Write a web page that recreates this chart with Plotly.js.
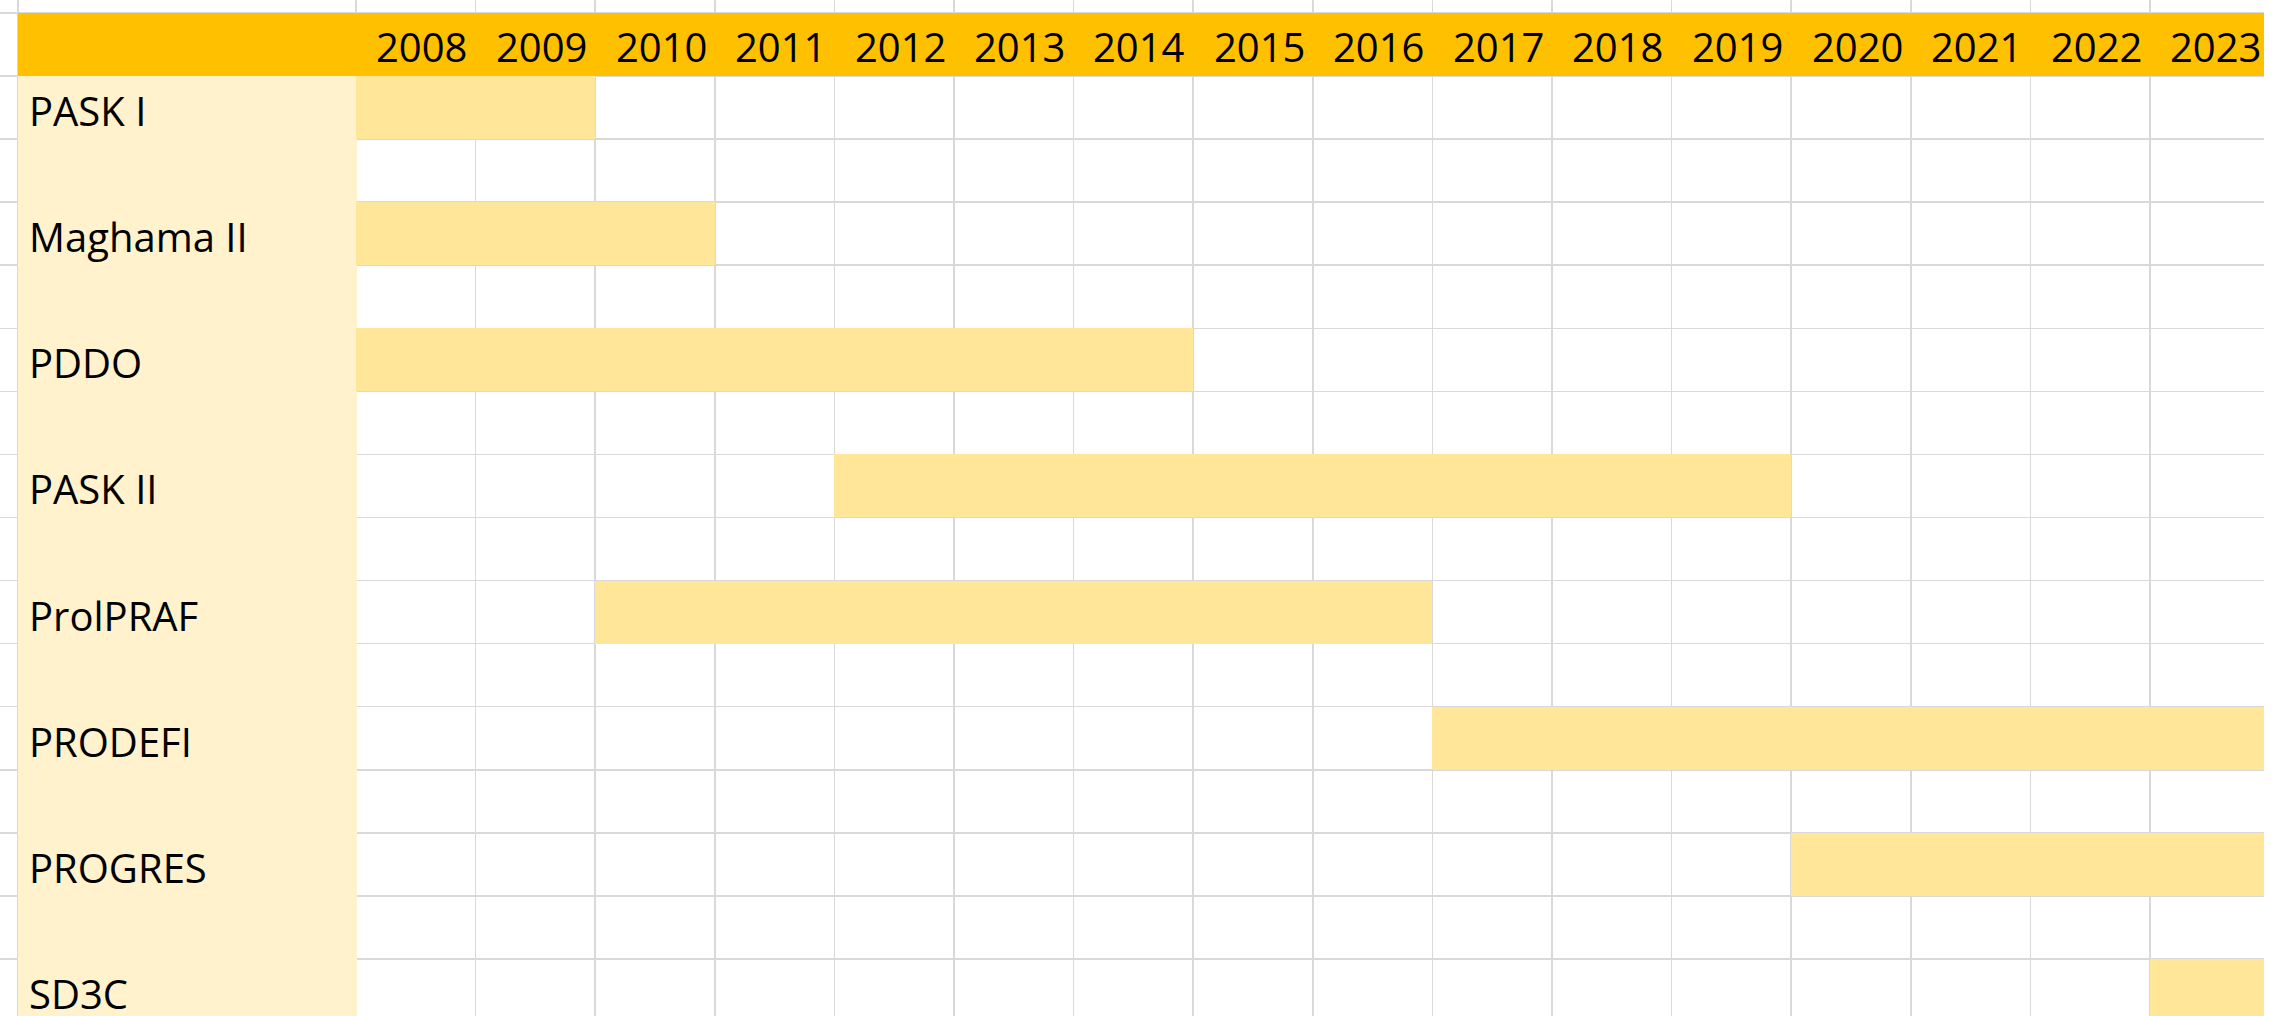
<!DOCTYPE html>
<html>
<head>
<meta charset="utf-8">
<script src="https://cdn.plot.ly/plotly-3.0.1.min.js"></script>
<style>html,body{margin:0;padding:0;background:#fff;}#chart{width:2280px;height:1016px;}</style>
</head>
<body>
<div id="chart"></div>
<script>
// ---- data ----
const years = ["2008","2009","2010","2011","2012","2013","2014","2015","2016","2017","2018","2019","2020","2021","2022","2023"];
const projects = ["PASK I","Maghama II","PDDO","PASK II","ProlPRAF","PRODEFI","PROGRES","SD3C"];
const startYears = [2008, 2008, 2008, 2012, 2010, 2017, 2020, 2023];
const endYears   = [2009, 2010, 2014, 2019, 2016, 2023, 2023, 2023];

// ---- geometry (pixels of the sheet) ----
const W = 2280, H = 1016;
const colW = 119.6, rowH = 63.07;
const gridLeftPx = 356, labelLeftPx = 18, rightPx = 2264, headerBottomPx = 76;
const firstYear = +years[0];

const xMin = -gridLeftPx / colW;
const xMax = (rightPx - gridLeftPx) / colW;
const xLabelLeft = (labelLeftPx - gridLeftPx) / colW;
const yTop = -headerBottomPx / rowH;
const yBottom = (H - headerBottomPx) / rowH;

// each project sits on every other row
const rowOf = projects.map((p, i) => i * 2);

const barTrace = {
  type: 'bar',
  orientation: 'h',
  y: rowOf.map(r => r + 0.5),
  base: startYears.map(s => s - firstYear),
  x: startYears.map((s, i) => endYears[i] - s + 1),
  width: 1,
  marker: {color: '#FFE699', line: {width: 0}},
  hoverinfo: 'skip',
  showlegend: false
};

const xGrid = [xLabelLeft];
for (let k = 0; k <= years.length; k++) xGrid.push(k);
const yGrid = [];
for (let r = -1; r <= Math.ceil(yBottom); r++) yGrid.push(r);

const font = {family: '"Open Sans", "Noto Sans", sans-serif', size: 40, color: '#000000'};

const annotations = [];
years.forEach((y, i) => {
  annotations.push({
    xref: 'x', yref: 'y', x: i + 0.5, y: -0.5, text: y, showarrow: false,
    xanchor: 'center', yanchor: 'middle', xshift: 6, yshift: -2, font: font
  });
});
projects.forEach((p, i) => {
  annotations.push({
    xref: 'x', yref: 'y', x: xLabelLeft, y: rowOf[i] + 0.5, text: p, showarrow: false,
    xanchor: 'left', yanchor: 'middle', xshift: 9, yshift: -3, font: font
  });
});

const layout = {
  width: W, height: H,
  margin: {l: 0, r: 0, t: 0, b: 0, pad: 0},
  paper_bgcolor: '#ffffff', plot_bgcolor: '#ffffff',
  xaxis: {
    domain: [0, rightPx / W], range: [xMin, xMax], fixedrange: true,
    tickmode: 'array', tickvals: xGrid, showticklabels: false, ticks: '',
    showgrid: true, gridcolor: '#D9D9D9', gridwidth: 1.5, zeroline: false, showline: false
  },
  yaxis: {
    domain: [0, 1], range: [yBottom, yTop], fixedrange: true,
    tickmode: 'array', tickvals: yGrid, showticklabels: false, ticks: '',
    showgrid: true, gridcolor: '#D9D9D9', gridwidth: 1.5, zeroline: false, showline: false
  },
  shapes: [
    {type: 'rect', xref: 'x', yref: 'y', x0: xLabelLeft, x1: xMax, y0: -1, y1: 0,
     fillcolor: '#FFC000', line: {width: 0}, layer: 'between'},
    {type: 'rect', xref: 'x', yref: 'y', x0: xLabelLeft, x1: 0.008, y0: 0, y1: yBottom + 1,
     fillcolor: '#FFF2CC', line: {width: 0}, layer: 'between'}
  ],
  annotations: annotations,
  bargap: 0,
  showlegend: false
};

Plotly.newPlot('chart', [barTrace], layout, {displayModeBar: false, staticPlot: true});
</script>
</body>
</html>
